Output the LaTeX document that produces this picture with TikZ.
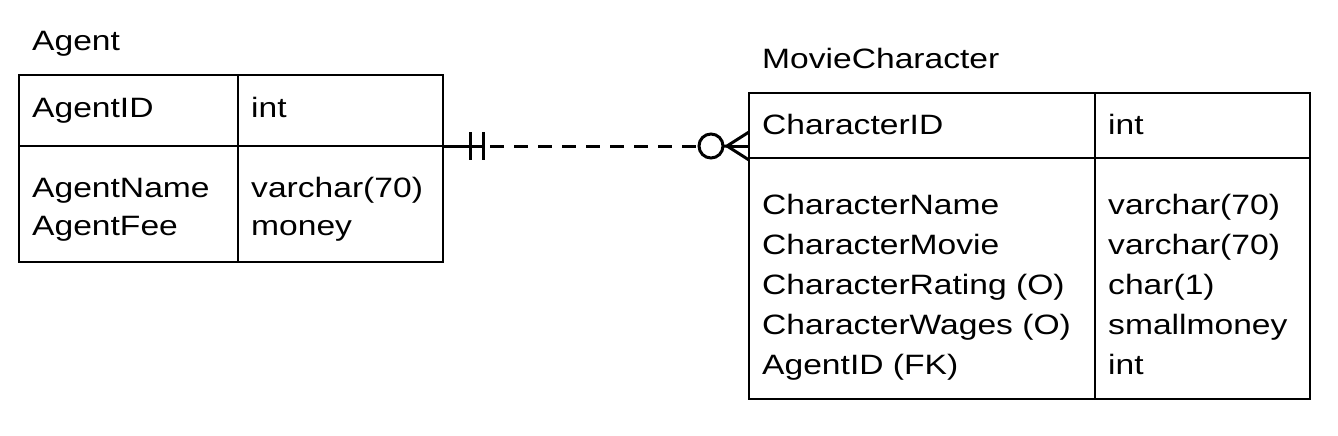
\documentclass[tikz,border=0pt]{standalone}
\usepackage{fontspec}
\newfontfamily\erfont{Liberation Sans}[FakeStretch=1.2]
\usetikzlibrary{positioning}
\tikzset{
    %Define style for table cells
    cell/.style={
           rectangle,
           draw=black, line width=2pt,
           inner sep=0pt,
           outer sep=0pt},
    %Define style for field texts
    field/.style={
           anchor=base west,
           inner sep=0pt,
           font=\erfont\fontsize{28pt}{40pt}\selectfont},
    % Define relation line style
    rel/.style={
           line width=3pt},
    optional/.style={
           circle,
           draw=black, line width=3pt,
           minimum size=24pt,
           inner sep=0pt,
           outer sep=0pt}
}
\begin{document}
\begin{tikzpicture}[x=1pt,y=-1pt]
\useasboundingbox (0,0) rectangle (1338,436);
% Agent table
\node[field] (agenttitle) at (32,51) {Agent};
\node[cell, anchor=north west, minimum width=219pt, minimum height=71pt] (agentkey) at (19,75) {};
\node[cell, right=0pt of agentkey, minimum width=205pt, minimum height=71pt] (agentkeytype) {};
\node[cell, below=0pt of agentkey, minimum width=219pt, minimum height=116pt] (agentattr) {};
\node[cell, right=0pt of agentattr, minimum width=205pt, minimum height=116pt] (agentattrtype) {};
\node[field] (agentid) at (32,117) {AgentID};
\node[field] (agentidtype) at (251,117) {int};
\node[field] (agentname) at (32,197) {AgentName};
\node[field] (agentnametype) at (251,197) {varchar(70)};
\node[field] (agentfee) at (32,235) {AgentFee};
\node[field] (agentfeetype) at (251,235) {money};

% MovieCharacter table
\node[field] (movtitle) at (762,68) {MovieCharacter};
\node[cell, anchor=north west, minimum width=346pt, minimum height=65pt] (movkey) at (749,93) {};
\node[cell, right=0pt of movkey, minimum width=215pt, minimum height=65pt] (movkeytype) {};
\node[cell, below=0pt of movkey, minimum width=346pt, minimum height=241pt] (movattr) {};
\node[cell, right=0pt of movattr, minimum width=215pt, minimum height=241pt] (movattrtype) {};
\node[field] (charid) at (762,134) {CharacterID};
\node[field] (charidtype) at (1108,134) {int};
\node[field] (charname) at (762,214) {CharacterName};
\node[field] (charnametype) at (1108,214) {varchar(70)};
\node[field] (charmovie) at (762,254) {CharacterMovie};
\node[field] (charmovietype) at (1108,254) {varchar(70)};
\node[field] (charrating) at (762,294) {CharacterRating (O)};
\node[field] (charratingtype) at (1108,294) {char(1)};
\node[field] (charwages) at (762,334) {CharacterWages (O)};
\node[field] (charwagestype) at (1108,334) {smallmoney};
\node[field] (charagent) at (762,374) {AgentID (FK)};
\node[field] (charagenttype) at (1108,374) {int};

% relation: one and only one to zero or many
\draw[rel] (agentkeytype.south east) -- ++(40pt,0);
\draw[rel] ([xshift=27pt,yshift=14pt]agentkeytype.south east) -- ++(0,-28pt);
\draw[rel] ([xshift=40pt,yshift=14pt]agentkeytype.south east) -- ++(0,-28pt);
\coordinate (dashstart) at ([xshift=47pt]agentkeytype.south east);
\node[optional] (zero) at (711,146) {};
\draw[rel, dash pattern=on 14pt off 10pt] (dashstart) -- (zero.west);
\coordinate (crow) at (727,146);
\coordinate (crowend) at (crow -| movkey.west);
\draw[rel] (zero.east) -- (crow) -- ([yshift=14pt]crowend);
\draw[rel] (crow) -- (crowend);
\draw[rel] (crow) -- ([yshift=-14pt]crowend);
\end{tikzpicture}
\end{document}
